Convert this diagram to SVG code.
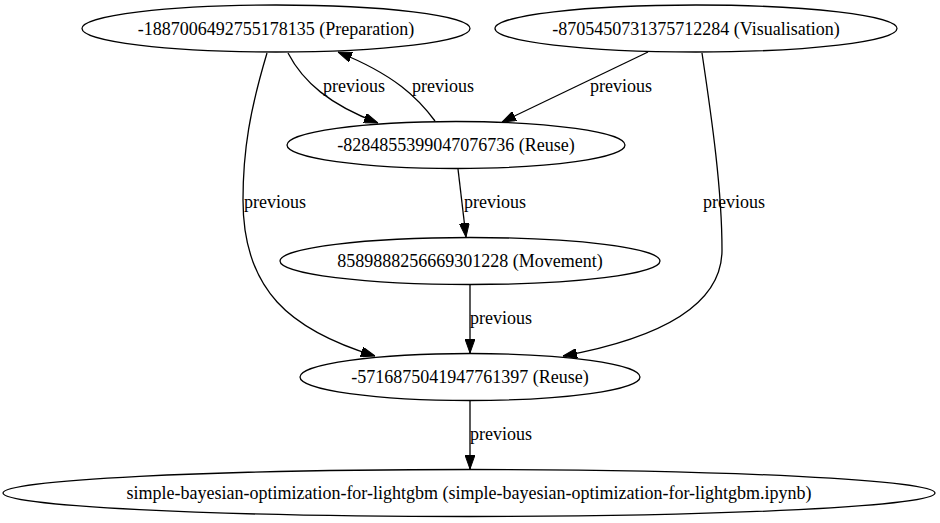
<svg xmlns="http://www.w3.org/2000/svg" width="940" height="523" viewBox="0 0 940 523">
<style>
.n ellipse{fill:none;stroke:#000;stroke-width:1.3}
text{font-family:"Liberation Serif","Times New Roman",serif;font-size:18px;fill:#000}
.n text{text-anchor:middle}
.e path{fill:none;stroke:#000;stroke-width:1.3;marker-end:url(#ah)}
</style>
<defs>
<marker id="ah" markerUnits="userSpaceOnUse" markerWidth="14" markerHeight="10" viewBox="0 0 14 10" refX="14" refY="5" orient="auto">
<path d="M0,0 L14,5 L0,10 z" fill="#000" stroke="#000"/>
</marker>
</defs>
<rect width="940" height="523" fill="#fff"/>
<g id="edges" class="e">
<path d="M288,53 C303,82 330,105 378,123"/>
<path d="M435,121 C418,98 395,75 338,52"/>
<path d="M648,52 L502,122"/>
<path d="M267,53 C250,110 243,150 243,200 C243,290 290,330 375,356"/>
<path d="M702,53 C712,120 722,190 722,250 C722,310 650,340 563,356"/>
<path d="M458,169 L466,237"/>
<path d="M470,285 L470,353"/>
<path d="M470,401 L470,469"/>
<text x="323" y="92">previous</text>
<text x="412" y="92">previous</text>
<text x="590" y="92">previous</text>
<text x="244" y="208">previous</text>
<text x="464" y="208">previous</text>
<text x="703" y="208">previous</text>
<text x="470" y="324">previous</text>
<text x="470" y="440">previous</text>
</g>
<g id="n1" class="n"><ellipse cx="276" cy="28.5" rx="194" ry="23.5"/><text x="276" y="34.5">-1887006492755178135 (Preparation)</text></g>
<g id="n2" class="n"><ellipse cx="696" cy="28.5" rx="201" ry="23.5"/><text x="696" y="34.5">-8705450731375712284 (Visualisation)</text></g>
<g id="n3" class="n"><ellipse cx="456" cy="145" rx="169" ry="23.5"/><text x="456" y="151">-8284855399047076736 (Reuse)</text></g>
<g id="n4" class="n"><ellipse cx="470" cy="261" rx="190" ry="23.5"/><text x="470" y="267">8589888256669301228 (Movement)</text></g>
<g id="n5" class="n"><ellipse cx="470" cy="377" rx="170" ry="23.5"/><text x="470" y="383">-5716875041947761397 (Reuse)</text></g>
<g id="n6" class="n"><ellipse cx="469" cy="493" rx="466" ry="23.5"/><text x="469" y="499">simple-bayesian-optimization-for-lightgbm (simple-bayesian-optimization-for-lightgbm.ipynb)</text></g>
</svg>
